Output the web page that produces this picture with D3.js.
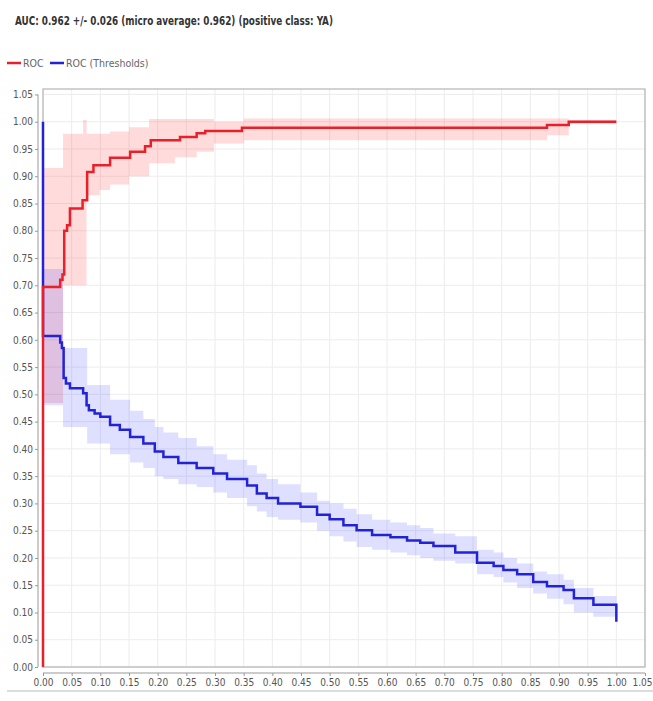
<!DOCTYPE html>
<html>
<head>
<meta charset="utf-8">
<script src="https://cdn.jsdelivr.net/npm/d3@7"></script>
<style>
  html, body { margin: 0; padding: 0; background: #fff; }
  svg { display: block; font-family: "Liberation Sans Narrow", "DejaVu Sans Condensed", "Liberation Sans", sans-serif; }
</style>
</head>
<body>
<div id="chart"></div>
<script>
// ROC (mean) step curve: false positive rate / true positive rate
var rocX = [0, 0, 0.030, 0.034, 0.037, 0.042, 0.047, 0.069, 0.077, 0.088, 0.117, 0.152, 0.178, 0.188, 0.239, 0.268, 0.283, 0.347, 0.879, 0.917, 1.0];
var rocY = [0, 0.697, 0.71, 0.72, 0.80, 0.81, 0.841, 0.856, 0.908, 0.92, 0.934, 0.945, 0.955, 0.966, 0.972, 0.979, 0.983, 0.989, 0.994, 1.0, 1.0];

// ROC band (+/- std)
var rocBandX  = [0, 0.035, 0.070, 0.076, 0.099, 0.117, 0.150, 0.185, 0.230, 0.268, 0.298, 0.350, 0.879, 0.917, 1.0];
var rocBandLo = [0.484, 0.70, 0.70, 0.865, 0.875, 0.885, 0.90, 0.924, 0.935, 0.945, 0.96, 0.966, 0.975, 0.996, 0.996];
var rocBandHi = [0.915, 0.978, 1.003, 0.978, 0.978, 0.982, 0.99, 1.005, 1.005, 1.005, 1.0, 1.006, 1.006, 1.003, 1.003];

// ROC (Thresholds) step curve
var thrX = [0, 0, 0.030, 0.033, 0.036, 0.040, 0.047, 0.070, 0.076, 0.080, 0.090, 0.100, 0.117, 0.134, 0.152, 0.175, 0.195, 0.210, 0.236, 0.268, 0.297, 0.321, 0.356, 0.373, 0.390, 0.410, 0.449, 0.478, 0.500, 0.524, 0.547, 0.574, 0.606, 0.635, 0.658, 0.681, 0.719, 0.757, 0.786, 0.803, 0.827, 0.855, 0.879, 0.908, 0.926, 0.960, 1.0];
var thrY = [1.0, 0.607, 0.595, 0.585, 0.53, 0.52, 0.511, 0.502, 0.48, 0.471, 0.465, 0.459, 0.444, 0.435, 0.422, 0.41, 0.395, 0.385, 0.374, 0.365, 0.355, 0.345, 0.333, 0.318, 0.31, 0.30, 0.294, 0.279, 0.271, 0.26, 0.251, 0.242, 0.238, 0.232, 0.228, 0.222, 0.21, 0.191, 0.185, 0.178, 0.17, 0.156, 0.148, 0.141, 0.126, 0.114, 0.083];

// ROC (Thresholds) band
var thrBandX  = [0, 0.035, 0.077, 0.117, 0.152, 0.175, 0.195, 0.210, 0.236, 0.268, 0.297, 0.321, 0.356, 0.373, 0.390, 0.410, 0.449, 0.478, 0.500, 0.524, 0.547, 0.574, 0.606, 0.635, 0.658, 0.681, 0.719, 0.757, 0.786, 0.803, 0.827, 0.855, 0.879, 0.908, 0.926, 0.960, 1.0];
var thrBandLo = [0.48, 0.44, 0.41, 0.39, 0.375, 0.365, 0.35, 0.345, 0.335, 0.33, 0.32, 0.31, 0.295, 0.285, 0.275, 0.27, 0.265, 0.25, 0.24, 0.23, 0.22, 0.215, 0.21, 0.205, 0.20, 0.195, 0.19, 0.17, 0.165, 0.155, 0.145, 0.135, 0.125, 0.115, 0.10, 0.092, 0.092];
var thrBandHi = [0.73, 0.585, 0.517, 0.49, 0.47, 0.455, 0.44, 0.43, 0.42, 0.405, 0.39, 0.38, 0.37, 0.355, 0.345, 0.335, 0.32, 0.305, 0.30, 0.29, 0.28, 0.27, 0.265, 0.26, 0.255, 0.245, 0.24, 0.215, 0.21, 0.20, 0.19, 0.175, 0.17, 0.16, 0.145, 0.13, 0.13];

var tickValues = [0, 0.05, 0.10, 0.15, 0.20, 0.25, 0.30, 0.35, 0.40, 0.45, 0.50, 0.55, 0.60, 0.65, 0.70, 0.75, 0.80, 0.85, 0.90, 0.95, 1.00, 1.05];

var titleText = "AUC: 0.962 +/- 0.026 (micro average: 0.962) (positive class: YA)";
var seriesNames = ["ROC", "ROC (Thresholds)"];
var seriesColors = ["#e8202a", "#2323d6"];
var bandColors = ["rgba(255,40,40,0.17)", "rgba(40,40,255,0.15)"];

var width = 653, height = 701;
var plotLeft = 43, plotRight = 645, plotTop = 89, plotBottom = 667;

var svg = d3.select("#chart").append("svg")
    .attr("width", width)
    .attr("height", height);

var x = d3.scaleLinear().domain([0, 1.05]).range([plotLeft, plotRight]);
var y = d3.scaleLinear().domain([0, 1.06]).range([plotBottom, plotTop]);

// title
svg.append("text")
    .attr("x", 15)
    .attr("y", 25)
    .attr("textLength", 318)
    .attr("lengthAdjust", "spacingAndGlyphs")
    .style("font-size", "12.5px")
    .style("font-weight", "bold")
    .style("fill", "#333")
    .text(titleText);

// legend
var legend = svg.append("g").attr("class", "legend");
var legendX = [7, 50];
seriesNames.forEach(function(name, i) {
    legend.append("line")
        .attr("x1", legendX[i]).attr("x2", legendX[i] + 14)
        .attr("y1", 63).attr("y2", 63)
        .style("stroke", seriesColors[i])
        .style("stroke-width", 2.5);
    legend.append("text")
        .attr("x", legendX[i] + 16)
        .attr("y", 66.5)
        .style("font-size", "10.5px")
        .style("fill", "#666")
        .text(name);
});

// grid
var grid = svg.append("g").attr("class", "grid");
tickValues.forEach(function(t) {
    grid.append("line")
        .attr("x1", x(t)).attr("x2", x(t))
        .attr("y1", plotTop).attr("y2", plotBottom)
        .style("stroke", "#ececec").style("stroke-width", 1);
    grid.append("line")
        .attr("x1", plotLeft).attr("x2", plotRight)
        .attr("y1", y(t)).attr("y2", y(t))
        .style("stroke", "#ececec").style("stroke-width", 1);
});

// bands
function bandRows(bx, lo, hi) {
    return bx.map(function(v, i) { return { x: v, lo: lo[i], hi: hi[i] }; });
}
var area = d3.area()
    .curve(d3.curveStepAfter)
    .x(function(d) { return x(d.x); })
    .y0(function(d) { return y(d.lo); })
    .y1(function(d) { return y(d.hi); });

svg.append("path")
    .datum(bandRows(rocBandX, rocBandLo, rocBandHi))
    .attr("d", area)
    .style("fill", bandColors[0]);
svg.append("path")
    .datum(bandRows(thrBandX, thrBandLo, thrBandHi))
    .attr("d", area)
    .style("fill", bandColors[1]);

// plot border
svg.append("rect")
    .attr("x", plotLeft).attr("y", plotTop)
    .attr("width", plotRight - plotLeft).attr("height", plotBottom - plotTop)
    .style("fill", "none")
    .style("stroke", "#b5b5b5")
    .style("stroke-width", 1.2);

// lines
var line = d3.line()
    .curve(d3.curveStepAfter)
    .x(function(d) { return x(d[0]); })
    .y(function(d) { return y(d[1]); });

svg.append("path")
    .datum(thrX.map(function(v, i) { return [v, thrY[i]]; }))
    .attr("d", line)
    .style("fill", "none")
    .style("stroke", seriesColors[1])
    .style("stroke-width", 2.5);

svg.append("path")
    .datum(rocX.map(function(v, i) { return [v, rocY[i]]; }))
    .attr("d", line)
    .style("fill", "none")
    .style("stroke", seriesColors[0])
    .style("stroke-width", 2.5);

// axes
var fmt = d3.format(".2f");
var yAxis = svg.append("g")
    .attr("transform", "translate(38,0)")
    .call(d3.axisLeft(y).tickValues(tickValues).tickFormat(fmt).tickSize(3).tickPadding(2));
yAxis.select(".domain").attr("d", "M0," + y(0) + "V" + y(1.05)).style("stroke", "#999");

var xAxis = svg.append("g")
    .attr("transform", "translate(0,673)")
    .call(d3.axisBottom(x).tickValues(tickValues).tickFormat(fmt).tickSize(3).tickPadding(3));
xAxis.select(".domain").attr("d", "M" + x(0) + ",0H" + x(1.05)).style("stroke", "#999");

svg.selectAll(".tick line").style("stroke", "#999");
svg.selectAll(".tick text")
    .style("font-family", "'Liberation Sans Narrow', 'DejaVu Sans Condensed', sans-serif")
    .style("font-size", "10px")
    .style("fill", "#555");

// keep the last x label inside the window
xAxis.selectAll(".tick:last-of-type text")
    .attr("text-anchor", "end")
    .attr("x", width - x(1.05) - 1);

// bottom separator
svg.append("line")
    .attr("x1", 7).attr("x2", 653)
    .attr("y1", 691).attr("y2", 691)
    .style("stroke", "#bbb")
    .style("stroke-width", 1);
</script>
</body>
</html>
